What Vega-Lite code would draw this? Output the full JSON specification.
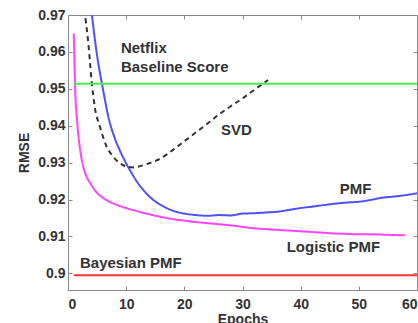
{
  "$schema": "https://vega.github.io/schema/vega-lite/v6.json",
  "width": 349,
  "height": 275,
  "autosize": "none",
  "padding": {"left": 68, "top": 15, "right": 1, "bottom": 33},
  "background": "white",
  "config": {
    "view": {"stroke": "#8a8a8a", "strokeWidth": 1},
    "font": "Liberation Sans",
    "axis": {
      "grid": false,
      "domainColor": "#8a8a8a",
      "tickColor": "#8a8a8a",
      "tickSize": -4,
      "labelFont": "Liberation Sans",
      "labelFontWeight": "bold",
      "labelFontSize": 14,
      "labelColor": "#333333",
      "titleFont": "Liberation Sans",
      "titleFontWeight": "bold",
      "titleFontSize": 14,
      "titleColor": "#333333"
    }
  },
  "datasets": {
    "curves": [
      {"series": "Logistic PMF", "epoch": 1, "rmse": 0.965},
      {"series": "Logistic PMF", "epoch": 1.2, "rmse": 0.9515},
      {"series": "Logistic PMF", "epoch": 1.6, "rmse": 0.9407},
      {"series": "Logistic PMF", "epoch": 2, "rmse": 0.9345},
      {"series": "Logistic PMF", "epoch": 2.4, "rmse": 0.9305},
      {"series": "Logistic PMF", "epoch": 3, "rmse": 0.927},
      {"series": "Logistic PMF", "epoch": 4, "rmse": 0.924},
      {"series": "Logistic PMF", "epoch": 5, "rmse": 0.9218},
      {"series": "Logistic PMF", "epoch": 6, "rmse": 0.9205},
      {"series": "Logistic PMF", "epoch": 7, "rmse": 0.9195},
      {"series": "Logistic PMF", "epoch": 8, "rmse": 0.9188},
      {"series": "Logistic PMF", "epoch": 10, "rmse": 0.9177},
      {"series": "Logistic PMF", "epoch": 12, "rmse": 0.9168},
      {"series": "Logistic PMF", "epoch": 14, "rmse": 0.916},
      {"series": "Logistic PMF", "epoch": 16, "rmse": 0.9153},
      {"series": "Logistic PMF", "epoch": 18, "rmse": 0.9147},
      {"series": "Logistic PMF", "epoch": 20, "rmse": 0.9143},
      {"series": "Logistic PMF", "epoch": 22, "rmse": 0.9139},
      {"series": "Logistic PMF", "epoch": 24, "rmse": 0.9136},
      {"series": "Logistic PMF", "epoch": 26, "rmse": 0.9133},
      {"series": "Logistic PMF", "epoch": 28, "rmse": 0.913},
      {"series": "Logistic PMF", "epoch": 30, "rmse": 0.9126},
      {"series": "Logistic PMF", "epoch": 32, "rmse": 0.9122},
      {"series": "Logistic PMF", "epoch": 34, "rmse": 0.912},
      {"series": "Logistic PMF", "epoch": 36, "rmse": 0.9118},
      {"series": "Logistic PMF", "epoch": 38, "rmse": 0.9116},
      {"series": "Logistic PMF", "epoch": 40, "rmse": 0.9114},
      {"series": "Logistic PMF", "epoch": 42, "rmse": 0.9112},
      {"series": "Logistic PMF", "epoch": 44, "rmse": 0.911},
      {"series": "Logistic PMF", "epoch": 46, "rmse": 0.9108},
      {"series": "Logistic PMF", "epoch": 48, "rmse": 0.9107},
      {"series": "Logistic PMF", "epoch": 50, "rmse": 0.9106},
      {"series": "Logistic PMF", "epoch": 52, "rmse": 0.9106},
      {"series": "Logistic PMF", "epoch": 54, "rmse": 0.9105},
      {"series": "Logistic PMF", "epoch": 56, "rmse": 0.9104},
      {"series": "Logistic PMF", "epoch": 58, "rmse": 0.9103},

      {"series": "PMF", "epoch": 4, "rmse": 0.9715},
      {"series": "PMF", "epoch": 5, "rmse": 0.959},
      {"series": "PMF", "epoch": 6, "rmse": 0.95},
      {"series": "PMF", "epoch": 7, "rmse": 0.942},
      {"series": "PMF", "epoch": 8, "rmse": 0.9368},
      {"series": "PMF", "epoch": 9, "rmse": 0.933},
      {"series": "PMF", "epoch": 10, "rmse": 0.9298},
      {"series": "PMF", "epoch": 11, "rmse": 0.927},
      {"series": "PMF", "epoch": 12, "rmse": 0.9245},
      {"series": "PMF", "epoch": 13, "rmse": 0.9225},
      {"series": "PMF", "epoch": 14, "rmse": 0.9208},
      {"series": "PMF", "epoch": 15, "rmse": 0.9195},
      {"series": "PMF", "epoch": 16, "rmse": 0.9185},
      {"series": "PMF", "epoch": 18, "rmse": 0.917},
      {"series": "PMF", "epoch": 20, "rmse": 0.9162},
      {"series": "PMF", "epoch": 22, "rmse": 0.9158},
      {"series": "PMF", "epoch": 24, "rmse": 0.9156},
      {"series": "PMF", "epoch": 26, "rmse": 0.9158},
      {"series": "PMF", "epoch": 28, "rmse": 0.9157},
      {"series": "PMF", "epoch": 30, "rmse": 0.9162},
      {"series": "PMF", "epoch": 32, "rmse": 0.9163},
      {"series": "PMF", "epoch": 34, "rmse": 0.9165},
      {"series": "PMF", "epoch": 36, "rmse": 0.9167},
      {"series": "PMF", "epoch": 38, "rmse": 0.9172},
      {"series": "PMF", "epoch": 40, "rmse": 0.9177},
      {"series": "PMF", "epoch": 42, "rmse": 0.9181},
      {"series": "PMF", "epoch": 44, "rmse": 0.9185},
      {"series": "PMF", "epoch": 46, "rmse": 0.9189},
      {"series": "PMF", "epoch": 48, "rmse": 0.9192},
      {"series": "PMF", "epoch": 50, "rmse": 0.9194},
      {"series": "PMF", "epoch": 52, "rmse": 0.9199},
      {"series": "PMF", "epoch": 54, "rmse": 0.9205},
      {"series": "PMF", "epoch": 56, "rmse": 0.9208},
      {"series": "PMF", "epoch": 58, "rmse": 0.9212},
      {"series": "PMF", "epoch": 60, "rmse": 0.9217},

      {"series": "SVD", "epoch": 2.8, "rmse": 0.9715},
      {"series": "SVD", "epoch": 3.5, "rmse": 0.9623},
      {"series": "SVD", "epoch": 4.1, "rmse": 0.9515},
      {"series": "SVD", "epoch": 4.6, "rmse": 0.9451},
      {"series": "SVD", "epoch": 5.5, "rmse": 0.9397},
      {"series": "SVD", "epoch": 6.6, "rmse": 0.9345},
      {"series": "SVD", "epoch": 7.8, "rmse": 0.9316},
      {"series": "SVD", "epoch": 9.5, "rmse": 0.9293},
      {"series": "SVD", "epoch": 11.2, "rmse": 0.9287},
      {"series": "SVD", "epoch": 13.5, "rmse": 0.9296},
      {"series": "SVD", "epoch": 16, "rmse": 0.9312},
      {"series": "SVD", "epoch": 18, "rmse": 0.9334},
      {"series": "SVD", "epoch": 20, "rmse": 0.9358},
      {"series": "SVD", "epoch": 22, "rmse": 0.9382},
      {"series": "SVD", "epoch": 24, "rmse": 0.9406},
      {"series": "SVD", "epoch": 26, "rmse": 0.9431},
      {"series": "SVD", "epoch": 28, "rmse": 0.9453},
      {"series": "SVD", "epoch": 30, "rmse": 0.9474},
      {"series": "SVD", "epoch": 32, "rmse": 0.9497},
      {"series": "SVD", "epoch": 34.4, "rmse": 0.9524},

      {"series": "Netflix Baseline", "epoch": 1, "rmse": 0.9514},
      {"series": "Netflix Baseline", "epoch": 60, "rmse": 0.9514},
      {"series": "Bayesian PMF", "epoch": 1, "rmse": 0.8995},
      {"series": "Bayesian PMF", "epoch": 60, "rmse": 0.8995}
    ],
    "labels": [
      {"label": "Netflix", "epoch": 9.1, "rmse": 0.9597},
      {"label": "Baseline Score", "epoch": 9.1, "rmse": 0.95455},
      {"label": "SVD", "epoch": 26.3, "rmse": 0.93748},
      {"label": "PMF", "epoch": 46.7, "rmse": 0.92149},
      {"label": "Logistic PMF", "epoch": 37.6, "rmse": 0.90577},
      {"label": "Bayesian PMF", "epoch": 2.06, "rmse": 0.90144}
    ]
  },
  "layer": [
    {
      "data": {"name": "curves"},
      "mark": {"type": "line", "clip": true, "strokeWidth": 2, "interpolate": "monotone"},
      "encoding": {
        "x": {
          "field": "epoch", "type": "quantitative",
          "scale": {"domain": [0, 60], "nice": false, "zero": false},
          "axis": {"values": [0, 10, 20, 30, 40, 50, 60], "title": "Epochs", "labelPadding": 11, "titlePadding": 1}
        },
        "y": {
          "field": "rmse", "type": "quantitative",
          "scale": {"domain": [0.8955, 0.97], "nice": false, "zero": false},
          "axis": {"values": [0.9, 0.91, 0.92, 0.93, 0.94, 0.95, 0.96, 0.97], "format": "~g", "title": "RMSE", "labelPadding": 7, "titlePadding": 6}
        },
        "color": {
          "field": "series", "type": "nominal",
          "scale": {
            "domain": ["Logistic PMF", "PMF", "SVD", "Netflix Baseline", "Bayesian PMF"],
            "range": ["#ff44ff", "#5050ff", "#333333", "#44ee44", "#ff3333"]
          },
          "legend": null
        },
        "strokeDash": {
          "field": "series", "type": "nominal",
          "scale": {
            "domain": ["Logistic PMF", "PMF", "SVD", "Netflix Baseline", "Bayesian PMF"],
            "range": [[1, 0], [1, 0], [5, 4], [1, 0], [1, 0]]
          },
          "legend": null
        }
      }
    },
    {
      "data": {"name": "labels"},
      "mark": {"type": "text", "align": "left", "baseline": "alphabetic", "font": "Liberation Sans", "fontSize": 15, "fontWeight": "bold", "color": "#333333"},
      "encoding": {
        "x": {"field": "epoch", "type": "quantitative", "axis": {"orient": "top", "values": [0, 10, 20, 30, 40, 50, 60], "labels": false, "domain": false, "title": null}},
        "y": {"field": "rmse", "type": "quantitative", "axis": {"orient": "right", "values": [0.9, 0.91, 0.92, 0.93, 0.94, 0.95, 0.96, 0.97], "labels": false, "domain": false, "title": null}},
        "text": {"field": "label"}
      }
    }
  ],
  "resolve": {"axis": {"x": "independent", "y": "independent"}}
}
